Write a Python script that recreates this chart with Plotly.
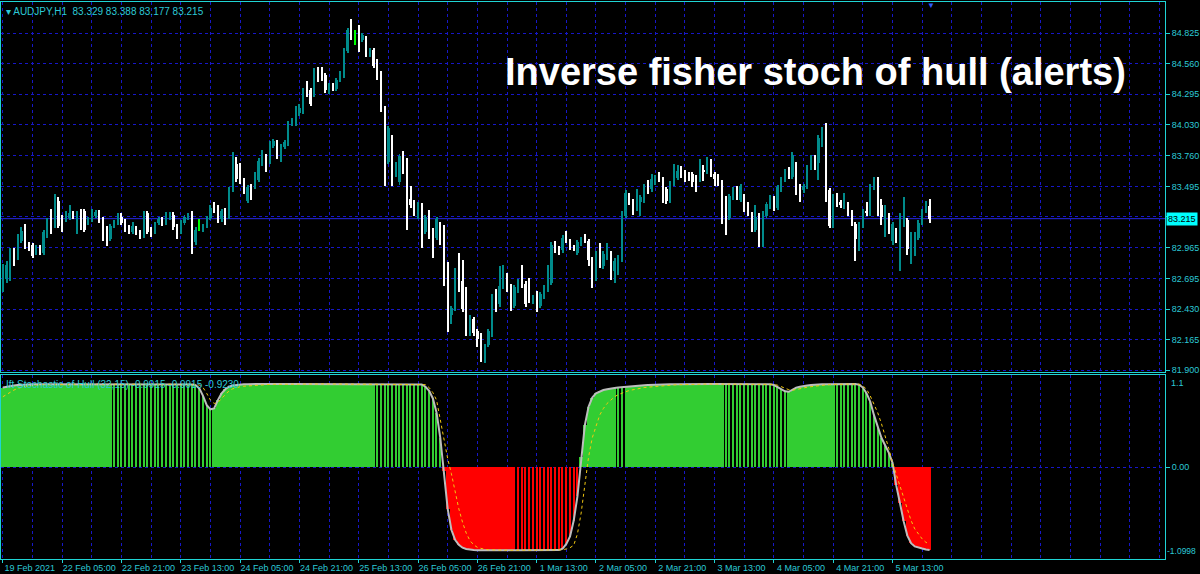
import plotly.graph_objects as go

# ---------------- data ----------------
tick_bars = [0, 16, 32, 48, 64, 80, 96, 112, 128, 144, 160, 176, 192, 208, 224, 240]
tick_labels = ["19 Feb 2021", "22 Feb 05:00", "22 Feb 21:00", "23 Feb 13:00", "24 Feb 05:00",
               "24 Feb 21:00", "25 Feb 13:00", "26 Feb 05:00", "26 Feb 21:00", "1 Mar 13:00",
               "2 Mar 05:00", "2 Mar 21:00", "3 Mar 13:00", "4 Mar 05:00", "4 Mar 21:00",
               "5 Mar 13:00"]

price_ticks = [84.825, 84.560, 84.295, 84.030, 83.760, 83.495, 83.230, 82.965, 82.695, 82.430, 82.165, 81.900]
# the 83.230 label is hidden behind the current-price box in the reference
price_labels = ["84.825", "84.560", "84.295", "84.030", "83.760", "83.495", "", "82.965",
                "82.695", "82.430", "82.165", "81.900"]
last_price = 83.215

opens = [
    82.62, 82.69, 82.70, 82.92, 82.88, 83.02, 83.14, 82.99, 82.99, 82.92,
    82.97, 82.92, 83.07, 83.18, 83.15, 83.37, 83.23, 83.21, 83.22, 83.26,
    83.23, 83.24, 83.28, 83.18, 83.20, 83.24, 83.26, 83.21, 83.08, 83.04,
    83.15, 83.18, 83.23, 83.19, 83.14, 83.10, 83.13, 83.10, 83.07, 83.26,
    83.12, 83.10, 83.18, 83.21, 83.18, 83.22, 83.25, 83.15, 83.10, 83.18,
    83.22, 83.24, 83.01, 83.13, 83.12, 83.15, 83.22, 83.31, 83.31, 83.21,
    83.26, 83.23, 83.47, 83.69, 83.66, 83.55, 83.37, 83.50, 83.49, 83.55,
    83.69, 83.75, 83.71, 83.85, 83.87, 83.76, 83.84, 83.87, 84.04, 84.04,
    84.13, 84.14, 84.33, 84.33, 84.29, 84.50, 84.48, 84.46, 84.32, 84.37,
    84.34, 84.42, 84.46, 84.67, 84.85, 84.84, 84.85, 84.77, 84.78, 84.64,
    84.68, 84.55, 84.48, 84.17, 83.71, 83.92, 83.60, 83.53, 83.66, 83.65,
    83.39, 83.36, 83.23, 83.30, 83.10, 83.17, 83.08, 83.05, 83.17, 83.14,
    82.65, 82.38, 82.43, 82.76, 82.67, 82.60, 82.28, 82.34, 82.24, 82.20,
    81.99, 82.12, 82.21, 82.54, 82.47, 82.62, 82.70, 82.63, 82.46, 82.59,
    82.67, 82.65, 82.64, 82.49, 82.53, 82.46, 82.54, 82.60, 82.66, 82.99,
    82.96, 82.94, 83.04, 83.02, 82.97, 82.92, 83.00, 83.05, 83.02, 82.86,
    82.69, 82.89, 82.80, 82.88, 82.91, 82.76, 82.75, 82.86, 83.24, 83.42,
    83.37, 83.30, 83.36, 83.37, 83.49, 83.47, 83.54, 83.56, 83.56, 83.47,
    83.37, 83.52, 83.57, 83.65, 83.61, 83.60, 83.60, 83.56, 83.55, 83.64,
    83.62, 83.71, 83.60, 83.58, 83.53, 83.27, 83.22, 83.40, 83.47, 83.38,
    83.41, 83.34, 83.25, 83.12, 83.24, 82.99, 83.24, 83.32, 83.39, 83.31,
    83.47, 83.55, 83.63, 83.58, 83.69, 83.50, 83.46, 83.49, 83.66, 83.75,
    83.70, 83.86, 83.98, 83.46, 83.15, 83.39, 83.36, 83.32, 83.34, 83.27,
    83.17, 83.04, 83.15, 83.28, 83.26, 83.48, 83.56, 83.33, 83.23, 83.24,
    83.02, 83.11, 83.04, 83.16, 83.20, 82.95, 83.04, 83.05, 83.18, 83.28, 83.329,
]
highs = [
    82.82, 82.85, 82.96, 82.96, 83.08, 83.14, 83.17, 83.01, 83.00, 82.99,
    82.99, 83.12, 83.22, 83.30, 83.43, 83.40, 83.25, 83.28, 83.33, 83.28,
    83.28, 83.30, 83.30, 83.23, 83.30, 83.29, 83.29, 83.23, 83.15, 83.17,
    83.20, 83.26, 83.26, 83.21, 83.16, 83.19, 83.15, 83.12, 83.28, 83.28,
    83.14, 83.19, 83.23, 83.23, 83.27, 83.27, 83.27, 83.17, 83.20, 83.25,
    83.26, 83.28, 83.14, 83.21, 83.17, 83.24, 83.33, 83.36, 83.33, 83.30,
    83.31, 83.49, 83.79, 83.75, 83.70, 83.57, 83.51, 83.52, 83.62, 83.74,
    83.81, 83.78, 83.89, 83.91, 83.90, 83.86, 83.90, 84.06, 84.09, 84.19,
    84.21, 84.35, 84.41, 84.35, 84.52, 84.53, 84.53, 84.48, 84.39, 84.39,
    84.44, 84.50, 84.70, 84.87, 84.95, 84.85, 84.90, 84.83, 84.80, 84.70,
    84.70, 84.60, 84.50, 84.19, 84.02, 83.94, 83.71, 83.78, 83.80, 83.74,
    83.50, 83.38, 83.36, 83.35, 83.25, 83.29, 83.13, 83.23, 83.19, 83.16,
    82.84, 82.46, 82.79, 82.92, 82.86, 82.62, 82.38, 82.36, 82.26, 82.22,
    82.13, 82.26, 82.56, 82.60, 82.80, 82.81, 82.74, 82.65, 82.64, 82.69,
    82.81, 82.67, 82.70, 82.55, 82.59, 82.58, 82.64, 82.81, 83.01, 83.02,
    82.98, 83.07, 83.11, 83.04, 82.99, 83.03, 83.06, 83.08, 83.04, 82.88,
    82.93, 83.00, 82.93, 83.00, 82.93, 82.87, 82.90, 83.28, 83.46, 83.44,
    83.39, 83.47, 83.42, 83.52, 83.55, 83.60, 83.59, 83.62, 83.58, 83.49,
    83.54, 83.69, 83.68, 83.67, 83.64, 83.62, 83.62, 83.59, 83.73, 83.68,
    83.75, 83.73, 83.62, 83.60, 83.55, 83.41, 83.43, 83.49, 83.50, 83.52,
    83.43, 83.36, 83.27, 83.33, 83.26, 83.28, 83.36, 83.42, 83.41, 83.51,
    83.58, 83.65, 83.66, 83.79, 83.71, 83.52, 83.52, 83.68, 83.77, 83.77,
    83.94, 84.01, 84.05, 83.48, 83.43, 83.44, 83.38, 83.44, 83.36, 83.29,
    83.19, 83.19, 83.30, 83.36, 83.52, 83.58, 83.58, 83.39, 83.33, 83.26,
    83.19, 83.13, 83.26, 83.40, 83.22, 83.10, 83.10, 83.20, 83.30, 83.37, 83.388,
]
lows = [
    82.58, 82.66, 82.67, 82.80, 82.86, 83.00, 82.95, 82.93, 82.87, 82.90,
    82.90, 82.90, 83.05, 83.08, 83.13, 83.13, 83.10, 83.19, 83.20, 83.21,
    83.08, 83.12, 83.10, 83.16, 83.19, 83.22, 83.18, 83.02, 82.98, 83.02,
    83.13, 83.16, 83.16, 83.10, 83.08, 83.08, 83.07, 83.04, 83.05, 83.08,
    83.06, 83.08, 83.16, 83.15, 83.16, 83.20, 83.12, 83.04, 83.08, 83.16,
    83.20, 82.91, 82.99, 83.11, 83.10, 83.13, 83.20, 83.26, 83.18, 83.19,
    83.16, 83.21, 83.45, 83.53, 83.52, 83.43, 83.35, 83.38, 83.47, 83.53,
    83.67, 83.62, 83.69, 83.83, 83.73, 83.71, 83.82, 83.85, 84.02, 84.02,
    84.11, 84.12, 84.27, 84.19, 84.27, 84.40, 84.41, 84.31, 84.30, 84.32,
    84.32, 84.40, 84.44, 84.65, 84.77, 84.72, 84.66, 84.75, 84.62, 84.62,
    84.52, 84.42, 84.14, 83.50, 83.69, 83.50, 83.58, 83.51, 83.60, 83.12,
    83.31, 83.24, 83.21, 82.96, 83.08, 83.04, 82.87, 83.03, 82.99, 82.63,
    82.23, 82.30, 82.41, 82.58, 82.40, 82.20, 82.20, 82.20, 82.10, 81.97,
    81.96, 82.10, 82.19, 82.40, 82.45, 82.60, 82.58, 82.41, 82.44, 82.57,
    82.61, 82.45, 82.48, 82.47, 82.40, 82.44, 82.52, 82.58, 82.64, 82.92,
    82.90, 82.92, 83.00, 82.94, 82.93, 82.90, 82.98, 83.00, 82.80, 82.61,
    82.67, 82.79, 82.78, 82.86, 82.68, 82.66, 82.73, 82.84, 83.22, 83.33,
    83.25, 83.28, 83.24, 83.35, 83.43, 83.45, 83.51, 83.53, 83.35, 83.34,
    83.35, 83.50, 83.55, 83.57, 83.53, 83.54, 83.49, 83.45, 83.53, 83.54,
    83.60, 83.58, 83.50, 83.50, 83.17, 83.07, 83.20, 83.38, 83.38, 83.36,
    83.27, 83.24, 83.10, 83.10, 82.97, 82.97, 83.22, 83.30, 83.28, 83.29,
    83.45, 83.53, 83.56, 83.56, 83.42, 83.36, 83.44, 83.47, 83.64, 83.64,
    83.55, 83.84, 83.36, 83.13, 83.13, 83.32, 83.31, 83.30, 83.24, 83.15,
    82.85, 82.93, 83.13, 83.24, 83.24, 83.46, 83.24, 83.16, 83.06, 83.08,
    82.99, 83.00, 82.76, 83.14, 82.90, 82.82, 82.89, 83.03, 83.16, 83.26, 83.177,
]
closes = [
    82.78, 82.81, 82.93, 82.89, 83.05, 83.11, 82.98, 82.96, 82.89, 82.97,
    82.92, 83.10, 83.20, 83.14, 83.41, 83.15, 83.19, 83.26, 83.26, 83.23,
    83.26, 83.20, 83.12, 83.21, 83.24, 83.27, 83.20, 83.08, 83.04, 83.15,
    83.18, 83.21, 83.18, 83.12, 83.10, 83.15, 83.09, 83.07, 83.26, 83.10,
    83.10, 83.17, 83.21, 83.17, 83.23, 83.25, 83.14, 83.07, 83.18, 83.23,
    83.24, 83.01, 83.12, 83.13, 83.15, 83.22, 83.31, 83.28, 83.20, 83.28,
    83.24, 83.47, 83.69, 83.56, 83.55, 83.45, 83.49, 83.47, 83.56, 83.72,
    83.78, 83.71, 83.85, 83.89, 83.76, 83.84, 83.88, 84.04, 84.07, 84.17,
    84.18, 84.33, 84.29, 84.21, 84.50, 84.47, 84.45, 84.33, 84.37, 84.34,
    84.42, 84.48, 84.68, 84.85, 84.84, 84.84, 84.68, 84.81, 84.64, 84.68,
    84.54, 84.46, 84.16, 83.69, 84.00, 83.56, 83.69, 83.76, 83.63, 83.39,
    83.33, 83.26, 83.30, 83.11, 83.23, 83.06, 82.99, 83.21, 83.14, 82.65,
    82.38, 82.44, 82.76, 82.66, 82.43, 82.24, 82.34, 82.22, 82.17, 81.99,
    82.08, 82.24, 82.54, 82.49, 82.63, 82.70, 82.62, 82.46, 82.62, 82.67,
    82.63, 82.47, 82.50, 82.53, 82.46, 82.56, 82.62, 82.65, 82.99, 82.95,
    82.92, 83.05, 83.02, 82.96, 82.95, 83.01, 83.04, 83.02, 82.86, 82.67,
    82.91, 82.81, 82.91, 82.91, 82.75, 82.85, 82.88, 83.26, 83.44, 83.37,
    83.30, 83.37, 83.40, 83.50, 83.47, 83.56, 83.58, 83.55, 83.37, 83.37,
    83.52, 83.62, 83.63, 83.59, 83.59, 83.56, 83.53, 83.53, 83.71, 83.62,
    83.71, 83.60, 83.56, 83.52, 83.27, 83.25, 83.41, 83.47, 83.40, 83.50,
    83.34, 83.26, 83.12, 83.23, 82.99, 83.26, 83.34, 83.40, 83.30, 83.49,
    83.56, 83.63, 83.58, 83.77, 83.49, 83.46, 83.50, 83.66, 83.75, 83.66,
    83.92, 83.98, 83.46, 83.15, 83.40, 83.34, 83.33, 83.35, 83.26, 83.17,
    83.04, 83.17, 83.28, 83.26, 83.50, 83.56, 83.26, 83.23, 83.31, 83.10,
    83.17, 83.02, 83.18, 83.23, 82.95, 83.08, 83.08, 83.18, 83.28, 83.33, 83.215,
]

ift_value = [
    0.950, 0.960, 0.968, 0.975, 0.980, 0.984, 0.987, 0.989, 0.990, 0.991,
    0.991, 0.992, 0.992, 0.992, 0.993, 0.993, 0.993, 0.993, 0.993, 0.993,
    0.993, 0.993, 0.993, 0.993, 0.993, 0.993, 0.993, 0.993, 0.992, 0.992,
    0.992, 0.992, 0.992, 0.992, 0.992, 0.991, 0.991, 0.991, 0.991, 0.991,
    0.991, 0.991, 0.991, 0.991, 0.991, 0.991, 0.991, 0.990, 0.990, 0.990,
    0.990, 0.988, 0.980, 0.940, 0.850, 0.740, 0.690, 0.700, 0.800, 0.880,
    0.930, 0.960, 0.975, 0.983, 0.988, 0.990, 0.991, 0.992, 0.992, 0.993,
    0.993, 0.994, 0.994, 0.994, 0.994, 0.994, 0.994, 0.994, 0.994, 0.994,
    0.994, 0.994, 0.994, 0.994, 0.994, 0.994, 0.994, 0.994, 0.994, 0.994,
    0.994, 0.994, 0.994, 0.995, 0.995, 0.995, 0.995, 0.995, 0.995, 0.995,
    0.995, 0.995, 0.995, 0.995, 0.995, 0.995, 0.995, 0.995, 0.995, 0.995,
    0.994, 0.994, 0.993, 0.988, 0.960, 0.910, 0.820, 0.650, 0.350, -0.050,
    -0.500, -0.750, -0.870, -0.930, -0.965, -0.980, -0.988, -0.992, -0.994, -0.995,
    -0.995, -0.996, -0.996, -0.996, -0.996, -0.996, -0.996, -0.996, -0.996, -0.996,
    -0.996, -0.996, -0.996, -0.996, -0.996, -0.996, -0.996, -0.996, -0.995, -0.995,
    -0.993, -0.975, -0.920, -0.830, -0.640, -0.350, 0.120, 0.500, 0.720, 0.830,
    0.880, 0.905, 0.920, 0.930, 0.940, 0.945, 0.950, 0.955, 0.960, 0.965,
    0.970, 0.972, 0.975, 0.978, 0.980, 0.983, 0.985, 0.987, 0.989, 0.990,
    0.991, 0.991, 0.992, 0.992, 0.992, 0.993, 0.993, 0.993, 0.993, 0.993,
    0.993, 0.993, 0.993, 0.993, 0.993, 0.993, 0.993, 0.993, 0.993, 0.993,
    0.993, 0.993, 0.993, 0.993, 0.993, 0.993, 0.992, 0.990, 0.980, 0.955,
    0.930, 0.905, 0.900, 0.925, 0.950, 0.960, 0.970, 0.975, 0.980, 0.985,
    0.988, 0.990, 0.991, 0.992, 0.993, 0.993, 0.993, 0.993, 0.993, 0.993,
    0.992, 0.985, 0.950, 0.880, 0.780, 0.620, 0.470, 0.350, 0.260, 0.170,
    0.050, -0.220, -0.430, -0.650, -0.820, -0.910, -0.950, -0.965, -0.975, -0.985, -0.9915,
]
ift_signal = [
    0.840, 0.870, 0.900, 0.920, 0.940, 0.955, 0.965, 0.972, 0.978, 0.982,
    0.985, 0.987, 0.988, 0.989, 0.990, 0.990, 0.991, 0.991, 0.991, 0.991,
    0.991, 0.991, 0.991, 0.991, 0.991, 0.991, 0.991, 0.991, 0.991, 0.991,
    0.991, 0.991, 0.991, 0.991, 0.991, 0.991, 0.991, 0.990, 0.990, 0.990,
    0.990, 0.990, 0.990, 0.990, 0.990, 0.990, 0.990, 0.990, 0.990, 0.990,
    0.990, 0.990, 0.989, 0.980, 0.950, 0.880, 0.800, 0.760, 0.770, 0.820,
    0.870, 0.910, 0.935, 0.950, 0.960, 0.966, 0.970, 0.974, 0.978, 0.981,
    0.984, 0.986, 0.988, 0.989, 0.990, 0.991, 0.992, 0.992, 0.993, 0.993,
    0.993, 0.993, 0.993, 0.993, 0.993, 0.993, 0.993, 0.993, 0.993, 0.993,
    0.993, 0.993, 0.993, 0.994, 0.994, 0.994, 0.994, 0.994, 0.994, 0.994,
    0.994, 0.994, 0.994, 0.994, 0.994, 0.994, 0.994, 0.994, 0.994, 0.994,
    0.994, 0.994, 0.994, 0.992, 0.985, 0.950, 0.890, 0.800, 0.550, 0.300,
    0.100, -0.080, -0.300, -0.500, -0.660, -0.790, -0.880, -0.930, -0.960, -0.975,
    -0.985, -0.990, -0.992, -0.993, -0.994, -0.995, -0.995, -0.995, -0.995, -0.995,
    -0.995, -0.995, -0.995, -0.995, -0.995, -0.995, -0.995, -0.995, -0.995, -0.995,
    -0.995, -0.990, -0.980, -0.965, -0.935, -0.800, -0.550, -0.180, 0.120, 0.350,
    0.500, 0.620, 0.700, 0.760, 0.800, 0.840, 0.865, 0.885, 0.900, 0.915,
    0.925, 0.935, 0.943, 0.950, 0.955, 0.960, 0.965, 0.970, 0.973, 0.976,
    0.979, 0.982, 0.984, 0.986, 0.988, 0.989, 0.990, 0.991, 0.991, 0.992,
    0.992, 0.992, 0.992, 0.992, 0.992, 0.992, 0.992, 0.992, 0.992, 0.992,
    0.992, 0.992, 0.992, 0.992, 0.992, 0.992, 0.992, 0.991, 0.988, 0.978,
    0.960, 0.940, 0.925, 0.918, 0.925, 0.935, 0.945, 0.955, 0.962, 0.968,
    0.974, 0.978, 0.982, 0.985, 0.988, 0.990, 0.991, 0.992, 0.992, 0.992,
    0.992, 0.990, 0.970, 0.930, 0.850, 0.760, 0.650, 0.520, 0.380, 0.220,
    0.050, -0.090, -0.240, -0.380, -0.520, -0.640, -0.740, -0.800, -0.860, -0.900, -0.923,
]
# bar ranges where the histogram is drawn by the thin ("weak") buffer
weak_segments = [(30, 56), (101, 118), (138, 155), (166, 168), (195, 211), (225, 240)]

# ---------------- styles ----------------
BG = "#000000"
GRID = "#1717c8"
BORDER = "#1fd4d4"
TXT = "#2cc9d6"
BULL = "#008b8b"
BEAR = "#ffffff"
DOJI = "#00ff00"
GREEN = "#32cd32"
RED = "#ff0000"
FONT = "Liberation Sans, Arial, sans-serif"

n = len(closes)
bars = list(range(n))
candle_col = [BULL if c > o else (BEAR if c < o else DOJI) for o, c in zip(opens, closes)]
body_base = [min(o, c) for o, c in zip(opens, closes)]
body_h = [max(abs(c - o), 0.006) for o, c in zip(opens, closes)]
wick_h = [h - l for h, l in zip(highs, lows)]

weak = set()
for a, b in weak_segments:
    weak.update(range(a, b + 1))
hist_w = [0.34 if i in weak else 1.0 for i in bars]
hist_col = [GREEN if v >= 0 else RED for v in ift_value]

fig = go.Figure()
fig.add_trace(go.Bar(x=bars, y=wick_h, base=lows, width=0.27, xaxis="x", yaxis="y",
                     marker=dict(color=candle_col, line=dict(width=0)), hoverinfo="skip"))
fig.add_trace(go.Bar(x=bars, y=body_h, base=body_base, width=0.62, xaxis="x", yaxis="y",
                     marker=dict(color=candle_col, line=dict(width=0)), hoverinfo="skip"))
fig.add_trace(go.Bar(x=bars, y=ift_value, width=hist_w, xaxis="x2", yaxis="y2",
                     marker=dict(color=hist_col, line=dict(width=0)), hoverinfo="skip"))
fig.add_trace(go.Scatter(x=bars, y=ift_value, mode="lines", xaxis="x2", yaxis="y2",
                         line=dict(color="#bdbdbd", width=2), hoverinfo="skip"))
fig.add_trace(go.Scatter(x=bars, y=ift_signal, mode="lines", xaxis="x2", yaxis="y2",
                         line=dict(color="#f2c811", width=1, dash="3px,3px"), hoverinfo="skip"))

xr = [-0.5, 313.5]
grid_common = dict(showgrid=True, gridcolor=GRID, gridwidth=1, griddash="3px,3px", zeroline=False,
                   showline=True, mirror=True, linecolor=BORDER, linewidth=1)
minor = dict(tickmode="linear", tick0=0, dtick=8, showgrid=True, gridcolor=GRID, griddash="3px,3px", ticks="")

fig.update_layout(
    width=1200, height=574, margin=dict(l=1, r=35, t=2, b=15, autoexpand=False),
    paper_bgcolor=BG, plot_bgcolor=BG, showlegend=False, barmode="overlay", bargap=0,
    font=dict(family=FONT, size=9, color=TXT),
    xaxis=dict(domain=[0, 1], anchor="y", range=xr, tickmode="array", tickvals=tick_bars,
               showticklabels=False, ticks="", minor=minor, **grid_common),
    yaxis=dict(domain=[0.3357, 1], anchor="x", side="right", range=[81.883, 85.097],
               tickmode="array", tickvals=price_ticks, ticktext=price_labels,
               ticks="outside", ticklen=4, tickcolor=BORDER,
               tickfont=dict(family=FONT, size=9, color=TXT), **grid_common),
    xaxis2=dict(domain=[0, 1], anchor="y2", range=xr, matches="x", tickmode="array",
                tickvals=tick_bars, ticktext=tick_labels, ticks="outside", ticklen=3,
                tickcolor=BORDER, ticklabelshift=27, ticklabelstandoff=-3,
                tickfont=dict(family=FONT, size=9, color=TXT), minor=minor, **grid_common),
    yaxis2=dict(domain=[0, 0.3303], anchor="x2", side="right", range=[-1.0998, 1.1],
                tickmode="array", tickvals=[0], ticktext=["0.00"], ticks="outside", ticklen=4,
                tickcolor=BORDER, tickfont=dict(family=FONT, size=9, color=TXT), **grid_common),
)

fig.add_shape(type="line", xref="x domain", x0=0, x1=1, yref="y", y0=last_price, y1=last_price,
              line=dict(color="#2626e0", width=1), layer="below")

fig.add_annotation(xref="paper", x=1, xanchor="left", xshift=1, yref="y", y=last_price,
                   text=f"{last_price:.3f}", showarrow=False, bgcolor="#00ffff", borderpad=1,
                   font=dict(family=FONT, size=9, color="#000000"))
fig.add_annotation(xref="paper", x=1, xanchor="left", xshift=4,
                   yref="y2 domain", y=1, yanchor="top", yshift=-1, text="1.1", showarrow=False,
                   font=dict(family=FONT, size=9, color=TXT))
fig.add_annotation(xref="paper", x=1, xanchor="left", xshift=0,
                   yref="y2 domain", y=0, yanchor="bottom", yshift=1, text="-1.0998", showarrow=False,
                   font=dict(family=FONT, size=8.5, color=TXT))

fig.add_annotation(xref="paper", x=0, xanchor="left", xshift=3, yref="paper", y=1, yanchor="top",
                   yshift=-2, text="▾ AUDJPY,H1  83.329 83.388 83.177 83.215", showarrow=False,
                   font=dict(family=FONT, size=10, color=TXT))
fig.add_annotation(xref="paper", x=0, xanchor="left", xshift=3, yref="y2 domain", y=1, yanchor="top",
                   yshift=-2, text="Ift Stochastic of Hull (32,15) -0.9915 -0.9915 -0.9230",
                   showarrow=False, font=dict(family=FONT, size=10, color=TXT))
fig.add_annotation(xref="paper", x=0.799, xanchor="center", yref="paper", y=1, yanchor="top",
                   yshift=3, text="▼", showarrow=False, font=dict(family=FONT, size=8, color="#2f5cff"))

fig.add_annotation(xref="paper", x=0.431, xanchor="left", yref="paper", y=0.874, yanchor="middle",
                   text="<b>Inverse fisher stoch of hull (alerts)</b>", showarrow=False,
                   font=dict(family="Liberation Sans, Arial, sans-serif", size=38, color="#ffffff"))

fig.write_html("out.html", config={"displayModeBar": False},
               post_script="document.body.style.margin='0px';document.body.style.overflow='hidden';")
